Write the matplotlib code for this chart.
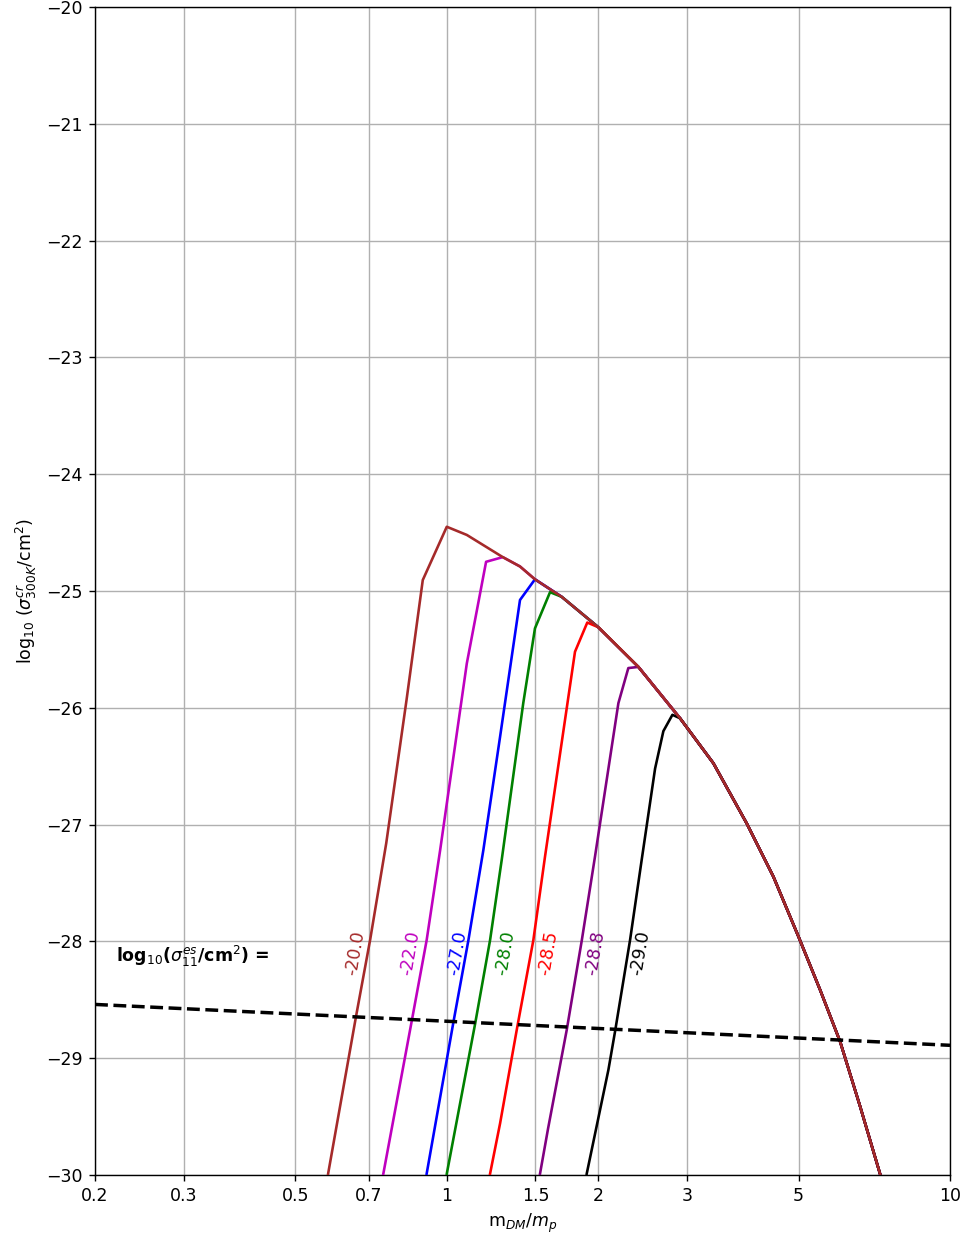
import matplotlib
matplotlib.use("Agg")
import matplotlib.pyplot as plt
import numpy as np

# Shared upper envelope (right branch) of all curves
env_x = [1.0, 1.096, 1.292, 1.398, 1.497, 1.692, 2.0, 2.403, 2.908, 3.387,
         3.945, 4.457, 5.0, 5.52, 6.05, 6.63, 7.26]
env_y = [-24.45, -24.52, -24.71, -24.79, -24.90, -25.05, -25.31, -25.65, -26.09,
         -26.475, -26.99, -27.446, -27.96, -28.416, -28.86, -29.415, -29.99]

# Rising (left) branches, labelled by log10(sigma_11^es / cm^2)
levels = ["-22.0", "-27.0", "-28.0", "-28.5", "-28.8", "-29.0", "-20.0"]
colors = ["m", "blue", "green", "red", "purple", "black", "brown"]

branch_x = {
    "-20.0": [0.581, 0.660, 0.704, 0.758, 0.832, 0.896],
    "-22.0": [0.748, 0.852, 0.912, 0.970, 1.096, 1.197],
    "-27.0": [0.912, 1.030, 1.104, 1.182, 1.276, 1.398],
    "-28.0": [1.0, 1.138, 1.219, 1.286, 1.419, 1.497, 1.604],
    "-28.5": [1.219, 1.276, 1.381, 1.486, 1.568, 1.798, 1.902],
    "-28.8": [1.532, 1.59, 1.731, 1.855, 1.971, 2.193, 2.295],
    "-29.0": [1.897, 2.095, 2.160, 2.313, 2.440, 2.594, 2.694, 2.808],
}
branch_y = {
    "-20.0": [-29.99, -28.645, -27.99, -27.16, -25.93, -24.906],
    "-22.0": [-29.99, -28.68, -27.99, -27.22, -25.62, -24.75],
    "-27.0": [-29.99, -28.70, -27.99, -27.22, -26.25, -25.077],
    "-28.0": [-29.99, -28.71, -27.99, -27.30, -25.96, -25.32, -25.01],
    "-28.5": [-29.99, -29.56, -28.73, -27.99, -27.27, -25.52, -25.27],
    "-28.8": [-29.99, -29.6, -28.76, -27.99, -27.27, -25.96, -25.66],
    "-29.0": [-29.99, -29.10, -28.77, -27.99, -27.30, -26.52, -26.20, -26.06],
}

# Label positions (x in m_DM/m_p, y in log10 sigma)
label_x = {"-20.0": 0.657, "-22.0": 0.845, "-27.0": 1.047, "-28.0": 1.306,
           "-28.5": 1.592, "-28.8": 1.971, "-29.0": 2.42}
label_y = -28.1

# Dashed reference line
dash_x = [0.2, 10.0]
dash_y = [-28.54, -28.89]

xticks = [0.2, 0.3, 0.5, 0.7, 1, 1.5, 2, 3, 5, 10]
xtick_labels = ["0.2", "0.3", "0.5", "0.7", "1", "1.5", "2", "3", "5", "10"]
yticks = list(range(-30, -19))

fig = plt.figure(figsize=(7.704, 9.888), dpi=125)
ax = fig.add_axes([0.0987, 0.0494, 0.9865 - 0.0987, 0.9943 - 0.0494])

for lev, col in zip(levels, colors):
    bx = list(branch_x[lev])
    by = list(branch_y[lev])
    last = bx[-1]
    for ex, ey in zip(env_x, env_y):
        if ex > last + 1e-9:
            bx.append(ex)
            by.append(ey)
    ax.plot(bx, by, color=col, lw=1.5, zorder=3)
    ax.text(label_x[lev], label_y, lev, color=col, rotation=80,
            ha="center", va="center", fontsize=10, zorder=4)

ax.plot(dash_x, dash_y, "k--", lw=2, zorder=3)

ax.text(0.22, -28.13, r"log$_{10}$($\sigma_{11}^{es}$/cm$^2$) =", fontsize=10,
        fontweight="bold", ha="left", va="center", color="black")

ax.set_xscale("log")
ax.set_xlim(0.2, 10)
ax.set_ylim(-30, -20)
ax.set_xticks(xticks)
ax.set_xticklabels(xtick_labels)
ax.xaxis.set_minor_locator(matplotlib.ticker.NullLocator())
ax.set_yticks(yticks)
ax.grid(True, which="major", color="#b0b0b0", lw=0.8)
ax.set_axisbelow(True)
ax.set_xlabel(r"m$_{DM}/m_p$")
ax.set_ylabel(r"log$_{10}$ ($\sigma^{cr}_{300K}$/cm$^2$)")

fig.savefig("out.png", dpi=125)
